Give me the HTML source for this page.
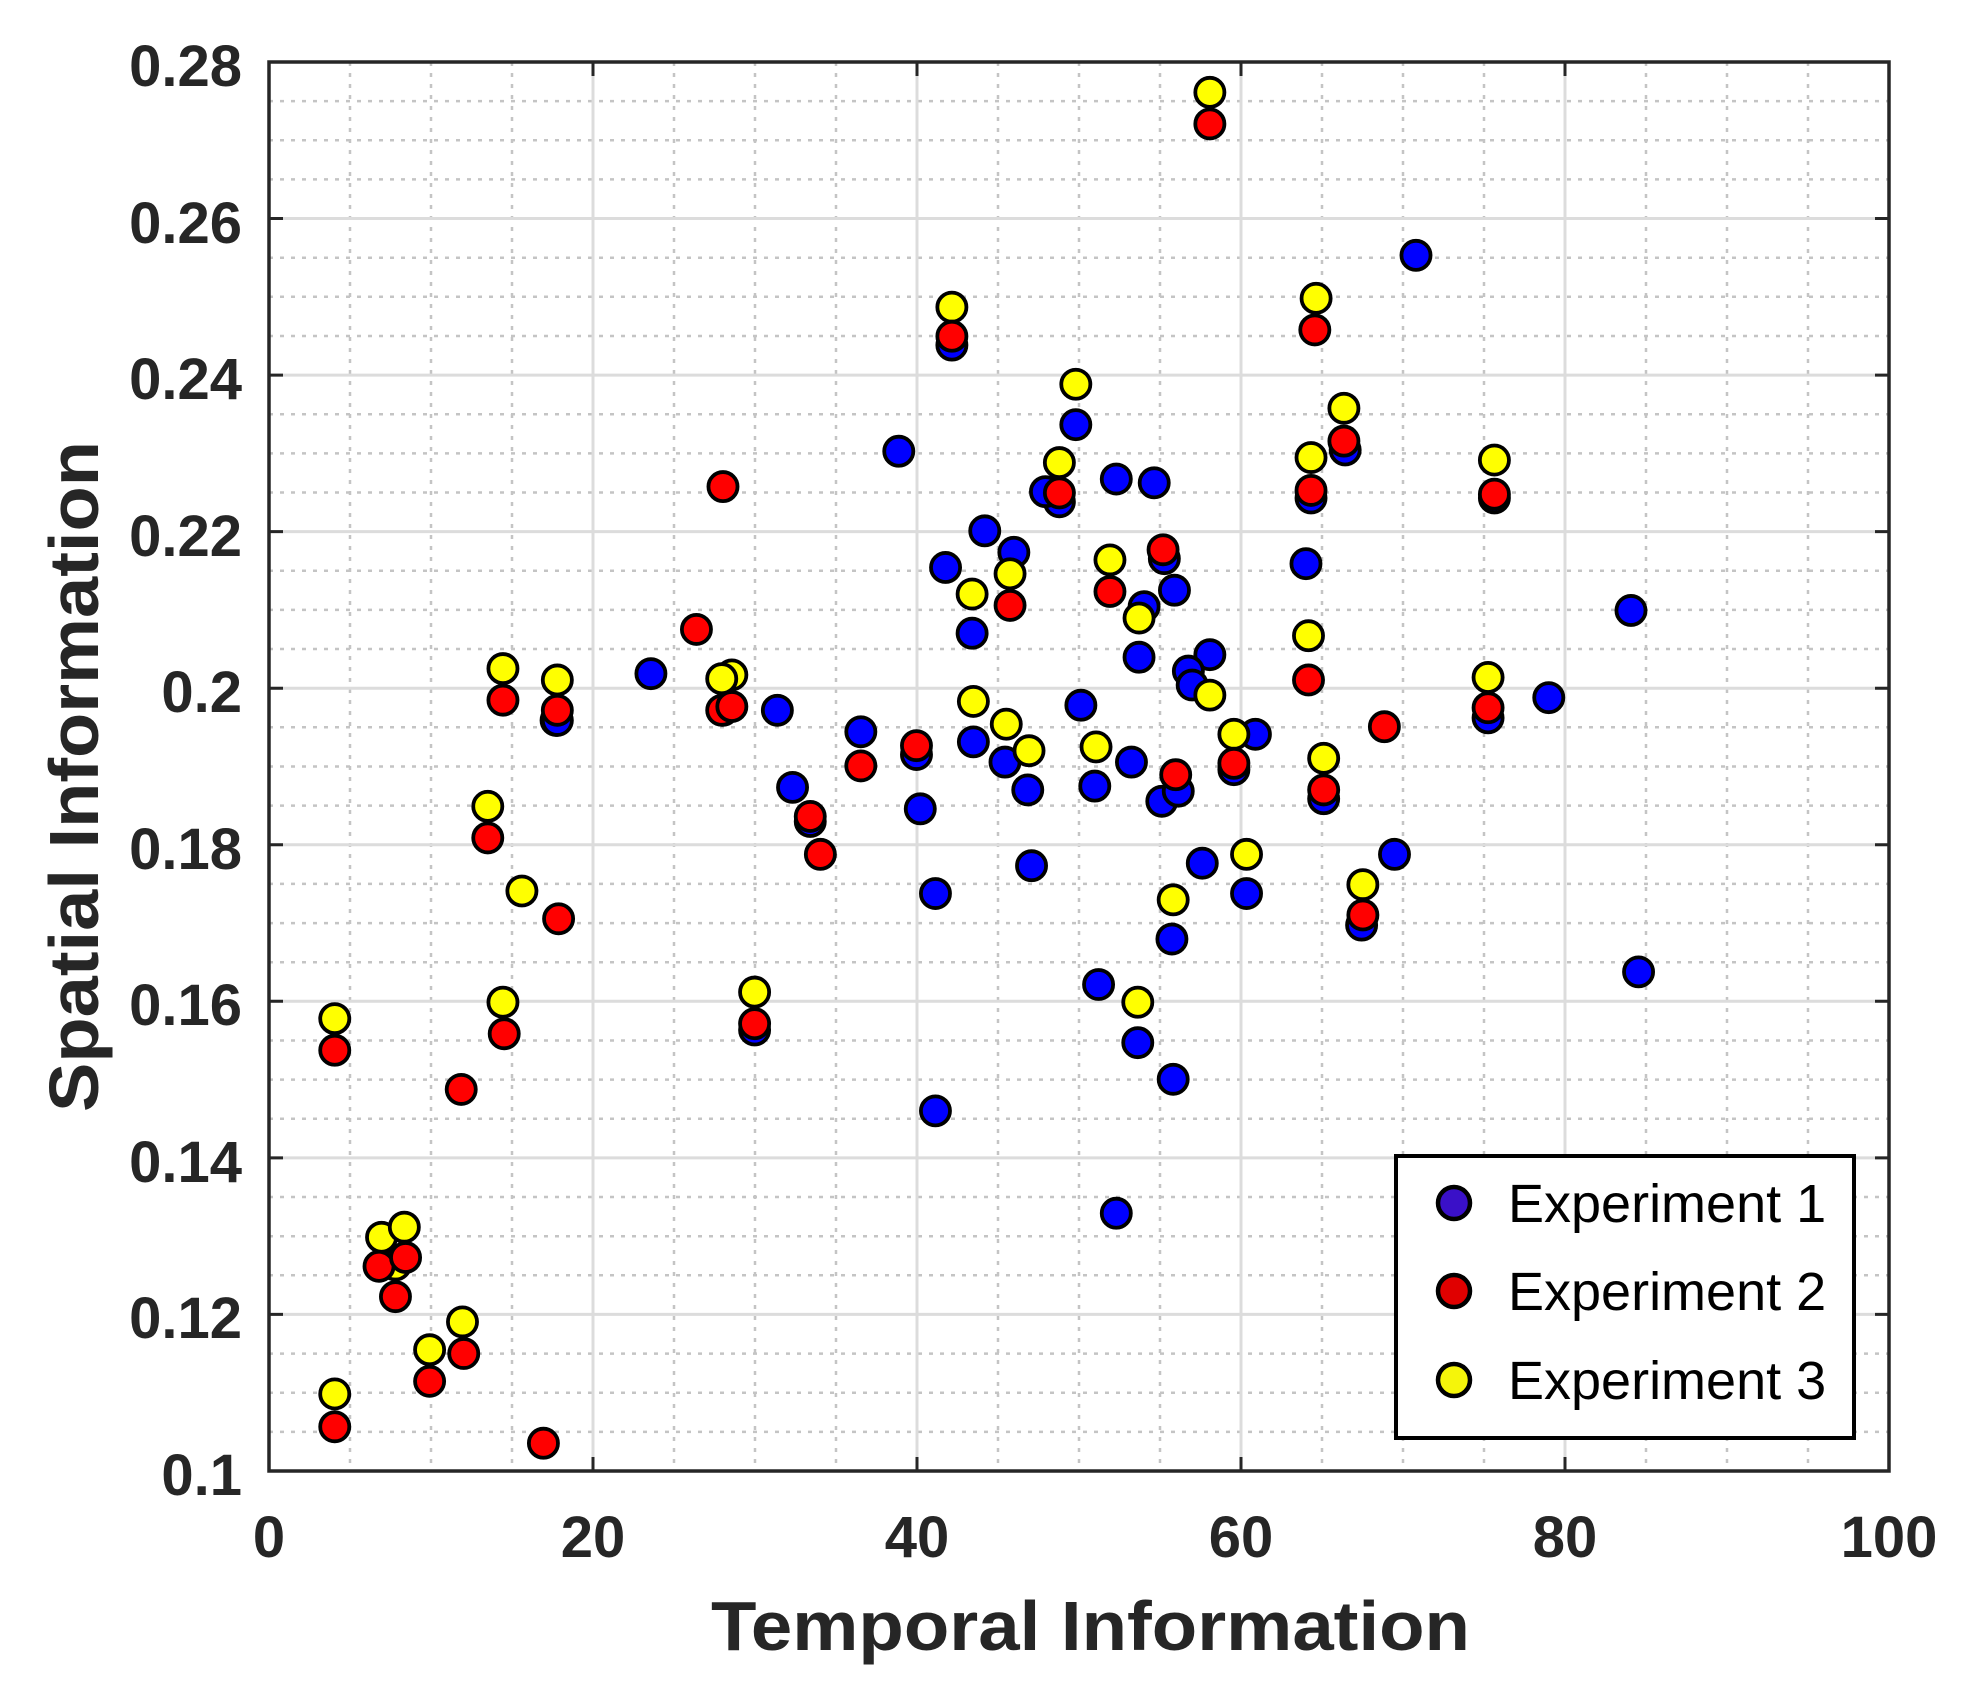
<!DOCTYPE html>
<html><head><meta charset="utf-8"><style>
html,body{margin:0;padding:0;background:#fff}
svg{display:block}
</style></head><body>
<svg width="1984" height="1691" viewBox="0 0 1984 1691" xmlns="http://www.w3.org/2000/svg" font-family="Liberation Sans, Arial, sans-serif">
<rect width="1984" height="1691" fill="#fff"/>
<g stroke="#c4c4c4" stroke-width="2.5" stroke-dasharray="4,7" fill="none">
<path d="M350 62V1471M431 62V1471M512 62V1471M674 62V1471M755 62V1471M836 62V1471M998 62V1471M1079 62V1471M1160 62V1471M1322 62V1471M1403 62V1471M1484 62V1471M1646 62V1471M1727 62V1471M1808 62V1471"/>
<path d="M269 1431.9H1889M269 1392.7H1889M269 1353.6H1889M269 1275.3H1889M269 1236.2H1889M269 1197H1889M269 1118.8H1889M269 1079.6H1889M269 1040.5H1889M269 962.2H1889M269 923.1H1889M269 883.9H1889M269 805.6H1889M269 766.5H1889M269 727.3H1889M269 649H1889M269 609.9H1889M269 570.8H1889M269 492.5H1889M269 453.4H1889M269 414.2H1889M269 336H1889M269 296.8H1889M269 257.7H1889M269 179.4H1889M269 140.2H1889M269 101.1H1889"/>
</g>
<g stroke="#dcdcdc" stroke-width="3" fill="none">
<path d="M593 62V1471M917 62V1471M1241 62V1471M1565 62V1471"/>
<path d="M269 1314.4H1889M269 1157.9H1889M269 1001.3H1889M269 844.7H1889M269 688.2H1889M269 531.6H1889M269 375.1H1889M269 218.5H1889"/>
</g>
<g stroke="#262626" stroke-width="3">
<path d="M593 1471v-14M917 1471v-14M1241 1471v-14M1565 1471v-14M593 62v14M917 62v14M1241 62v14M1565 62v14"/>
<path d="M269 1314.4h14M269 1157.9h14M269 1001.3h14M269 844.7h14M269 688.2h14M269 531.6h14M269 375.1h14M269 218.5h14M1889 1314.4h-14M1889 1157.9h-14M1889 1001.3h-14M1889 844.7h-14M1889 688.2h-14M1889 531.6h-14M1889 375.1h-14M1889 218.5h-14"/>
</g>
<rect x="269" y="62" width="1620" height="1409" fill="none" stroke="#262626" stroke-width="3.5"/>
<g transform="matrix(1.2646 0 0 1.2637 -0.36 2.61)" stroke="#000" stroke-width="3">
<g fill="#0000ff">
<circle cx="1120" cy="200" r="11.5"/><circle cx="711" cy="355" r="11.5"/><circle cx="838" cy="395" r="11.5"/><circle cx="827" cy="387" r="11.5"/><circle cx="883" cy="377" r="11.5"/><circle cx="913" cy="380" r="11.5"/><circle cx="851" cy="334" r="11.5"/><circle cx="779" cy="418" r="11.5"/><circle cx="802" cy="435" r="11.5"/><circle cx="748" cy="447" r="11.5"/><circle cx="769" cy="499" r="11.5"/><circle cx="770" cy="585" r="11.5"/><circle cx="921" cy="440" r="11.5"/><circle cx="929" cy="465" r="11.5"/><circle cx="905" cy="478" r="11.5"/><circle cx="901" cy="518" r="11.5"/><circle cx="957" cy="516" r="11.5"/><circle cx="940" cy="529" r="11.5"/><circle cx="943" cy="540" r="11.5"/><circle cx="855" cy="556" r="11.5"/><circle cx="993" cy="579" r="11.5"/><circle cx="976" cy="607" r="11.5"/><circle cx="895" cy="601" r="11.5"/><circle cx="866" cy="620" r="11.5"/><circle cx="813" cy="623" r="11.5"/><circle cx="795" cy="601" r="11.5"/><circle cx="919" cy="632" r="11.5"/><circle cx="932" cy="624" r="11.5"/><circle cx="951" cy="681" r="11.5"/><circle cx="986" cy="705" r="11.5"/><circle cx="816" cy="683" r="11.5"/><circle cx="740" cy="705" r="11.5"/><circle cx="728" cy="638" r="11.5"/><circle cx="725" cy="595" r="11.5"/><circle cx="681" cy="577" r="11.5"/><circle cx="615" cy="560" r="11.5"/><circle cx="627" cy="621" r="11.5"/><circle cx="641" cy="648" r="11.5"/><circle cx="515" cy="531" r="11.5"/><circle cx="440" cy="568" r="11.5"/><circle cx="1033" cy="444" r="11.5"/><circle cx="1037" cy="392" r="11.5"/><circle cx="1064" cy="354" r="11.5"/><circle cx="1047" cy="630" r="11.5"/><circle cx="1077" cy="730" r="11.5"/><circle cx="1103" cy="674" r="11.5"/><circle cx="1177" cy="566" r="11.5"/><circle cx="1225" cy="550" r="11.5"/><circle cx="1290" cy="481" r="11.5"/><circle cx="1296" cy="767" r="11.5"/><circle cx="869" cy="777" r="11.5"/><circle cx="927" cy="741" r="11.5"/><circle cx="900" cy="823" r="11.5"/><circle cx="928" cy="852" r="11.5"/><circle cx="740" cy="877" r="11.5"/><circle cx="883" cy="958" r="11.5"/><circle cx="753" cy="271" r="11.5"/><circle cx="572" cy="560" r="11.5"/><circle cx="441" cy="568" r="11.5"/><circle cx="597" cy="813" r="11.5"/><circle cx="1182" cy="392" r="11.5"/>
</g>
<g fill="#ffff00">
<circle cx="957" cy="71" r="11.5"/><circle cx="753" cy="241" r="11.5"/><circle cx="1041" cy="234" r="11.5"/><circle cx="1063" cy="321" r="11.5"/><circle cx="851" cy="302" r="11.5"/><circle cx="838" cy="364" r="11.5"/><circle cx="1037" cy="360" r="11.5"/><circle cx="1182" cy="362" r="11.5"/><circle cx="878" cy="441" r="11.5"/><circle cx="769" cy="468" r="11.5"/><circle cx="799" cy="452" r="11.5"/><circle cx="901" cy="487" r="11.5"/><circle cx="1035" cy="501" r="11.5"/><circle cx="1177" cy="534" r="11.5"/><circle cx="770" cy="553" r="11.5"/><circle cx="796" cy="571" r="11.5"/><circle cx="814" cy="592" r="11.5"/><circle cx="867" cy="589" r="11.5"/><circle cx="976" cy="579" r="11.5"/><circle cx="957" cy="548" r="11.5"/><circle cx="1047" cy="598" r="11.5"/><circle cx="986" cy="674" r="11.5"/><circle cx="928" cy="710" r="11.5"/><circle cx="1078" cy="698" r="11.5"/><circle cx="579" cy="532" r="11.5"/><circle cx="571" cy="535" r="11.5"/><circle cx="398" cy="527" r="11.5"/><circle cx="441" cy="536" r="11.5"/><circle cx="386" cy="636" r="11.5"/><circle cx="413" cy="703" r="11.5"/><circle cx="597" cy="783" r="11.5"/><circle cx="398" cy="791" r="11.5"/><circle cx="900" cy="791" r="11.5"/><circle cx="265" cy="804" r="11.5"/><circle cx="302" cy="977" r="11.5"/><circle cx="320" cy="969" r="11.5"/><circle cx="313" cy="999" r="11.5"/><circle cx="366" cy="1044" r="11.5"/><circle cx="340" cy="1066" r="11.5"/><circle cx="265" cy="1101" r="11.5"/>
</g>
<g fill="#ff0000">
<circle cx="957" cy="96" r="11.5"/><circle cx="753" cy="264" r="11.5"/><circle cx="572" cy="383" r="11.5"/><circle cx="838" cy="388" r="11.5"/><circle cx="1040" cy="259" r="11.5"/><circle cx="1063" cy="347" r="11.5"/><circle cx="1037" cy="386" r="11.5"/><circle cx="1182" cy="389" r="11.5"/><circle cx="920" cy="433" r="11.5"/><circle cx="878" cy="466" r="11.5"/><circle cx="799" cy="477" r="11.5"/><circle cx="551" cy="496" r="11.5"/><circle cx="571" cy="560" r="11.5"/><circle cx="579" cy="557" r="11.5"/><circle cx="398" cy="552" r="11.5"/><circle cx="441" cy="560" r="11.5"/><circle cx="1035" cy="536" r="11.5"/><circle cx="1095" cy="573" r="11.5"/><circle cx="1177" cy="558" r="11.5"/><circle cx="976" cy="602" r="11.5"/><circle cx="930" cy="611" r="11.5"/><circle cx="1047" cy="623" r="11.5"/><circle cx="725" cy="588" r="11.5"/><circle cx="681" cy="604" r="11.5"/><circle cx="641" cy="644" r="11.5"/><circle cx="649" cy="674" r="11.5"/><circle cx="386" cy="661" r="11.5"/><circle cx="442" cy="725" r="11.5"/><circle cx="1078" cy="722" r="11.5"/><circle cx="597" cy="808" r="11.5"/><circle cx="399" cy="816" r="11.5"/><circle cx="265" cy="829" r="11.5"/><circle cx="365" cy="860" r="11.5"/><circle cx="300" cy="1000" r="11.5"/><circle cx="321" cy="993" r="11.5"/><circle cx="313" cy="1024" r="11.5"/><circle cx="367" cy="1069" r="11.5"/><circle cx="340" cy="1091" r="11.5"/><circle cx="265" cy="1127" r="11.5"/><circle cx="430" cy="1140" r="11.5"/>
</g>
</g>
<g fill="#262626" font-weight="bold" font-size="58" text-anchor="end">
<text x="242" y="1495">0.1</text>
<text x="242" y="1338">0.12</text>
<text x="242" y="1182">0.14</text>
<text x="242" y="1025">0.16</text>
<text x="242" y="869">0.18</text>
<text x="242" y="712">0.2</text>
<text x="242" y="556">0.22</text>
<text x="242" y="399">0.24</text>
<text x="242" y="243">0.26</text>
<text x="242" y="86">0.28</text>
</g>
<g fill="#262626" font-weight="bold" font-size="58" text-anchor="middle">
<text x="269" y="1557">0</text>
<text x="593" y="1557">20</text>
<text x="917" y="1557">40</text>
<text x="1241" y="1557">60</text>
<text x="1565" y="1557">80</text>
<text x="1889" y="1557">100</text>
</g>
<text x="711" y="1650" fill="#262626" font-weight="bold" font-size="70" textLength="759" lengthAdjust="spacingAndGlyphs">Temporal Information</text>
<text transform="translate(98 1112) rotate(-90)" fill="#262626" font-weight="bold" font-size="70" textLength="671" lengthAdjust="spacingAndGlyphs">Spatial Information</text>
<rect x="1396" y="1156" width="458" height="282" fill="#fff" stroke="#000" stroke-width="4"/>
<g stroke="#000" stroke-width="4.5">
<circle cx="1454" cy="1203" r="16" fill="#3a10c8"/>
<circle cx="1454" cy="1291" r="16" fill="#e00000"/>
<circle cx="1454" cy="1380" r="16" fill="#f5f50a"/>
</g>
<g fill="#000" font-size="54">
<text x="1508" y="1222">Experiment 1</text>
<text x="1508" y="1310">Experiment 2</text>
<text x="1508" y="1399">Experiment 3</text>
</g>
</svg>
</body></html>
